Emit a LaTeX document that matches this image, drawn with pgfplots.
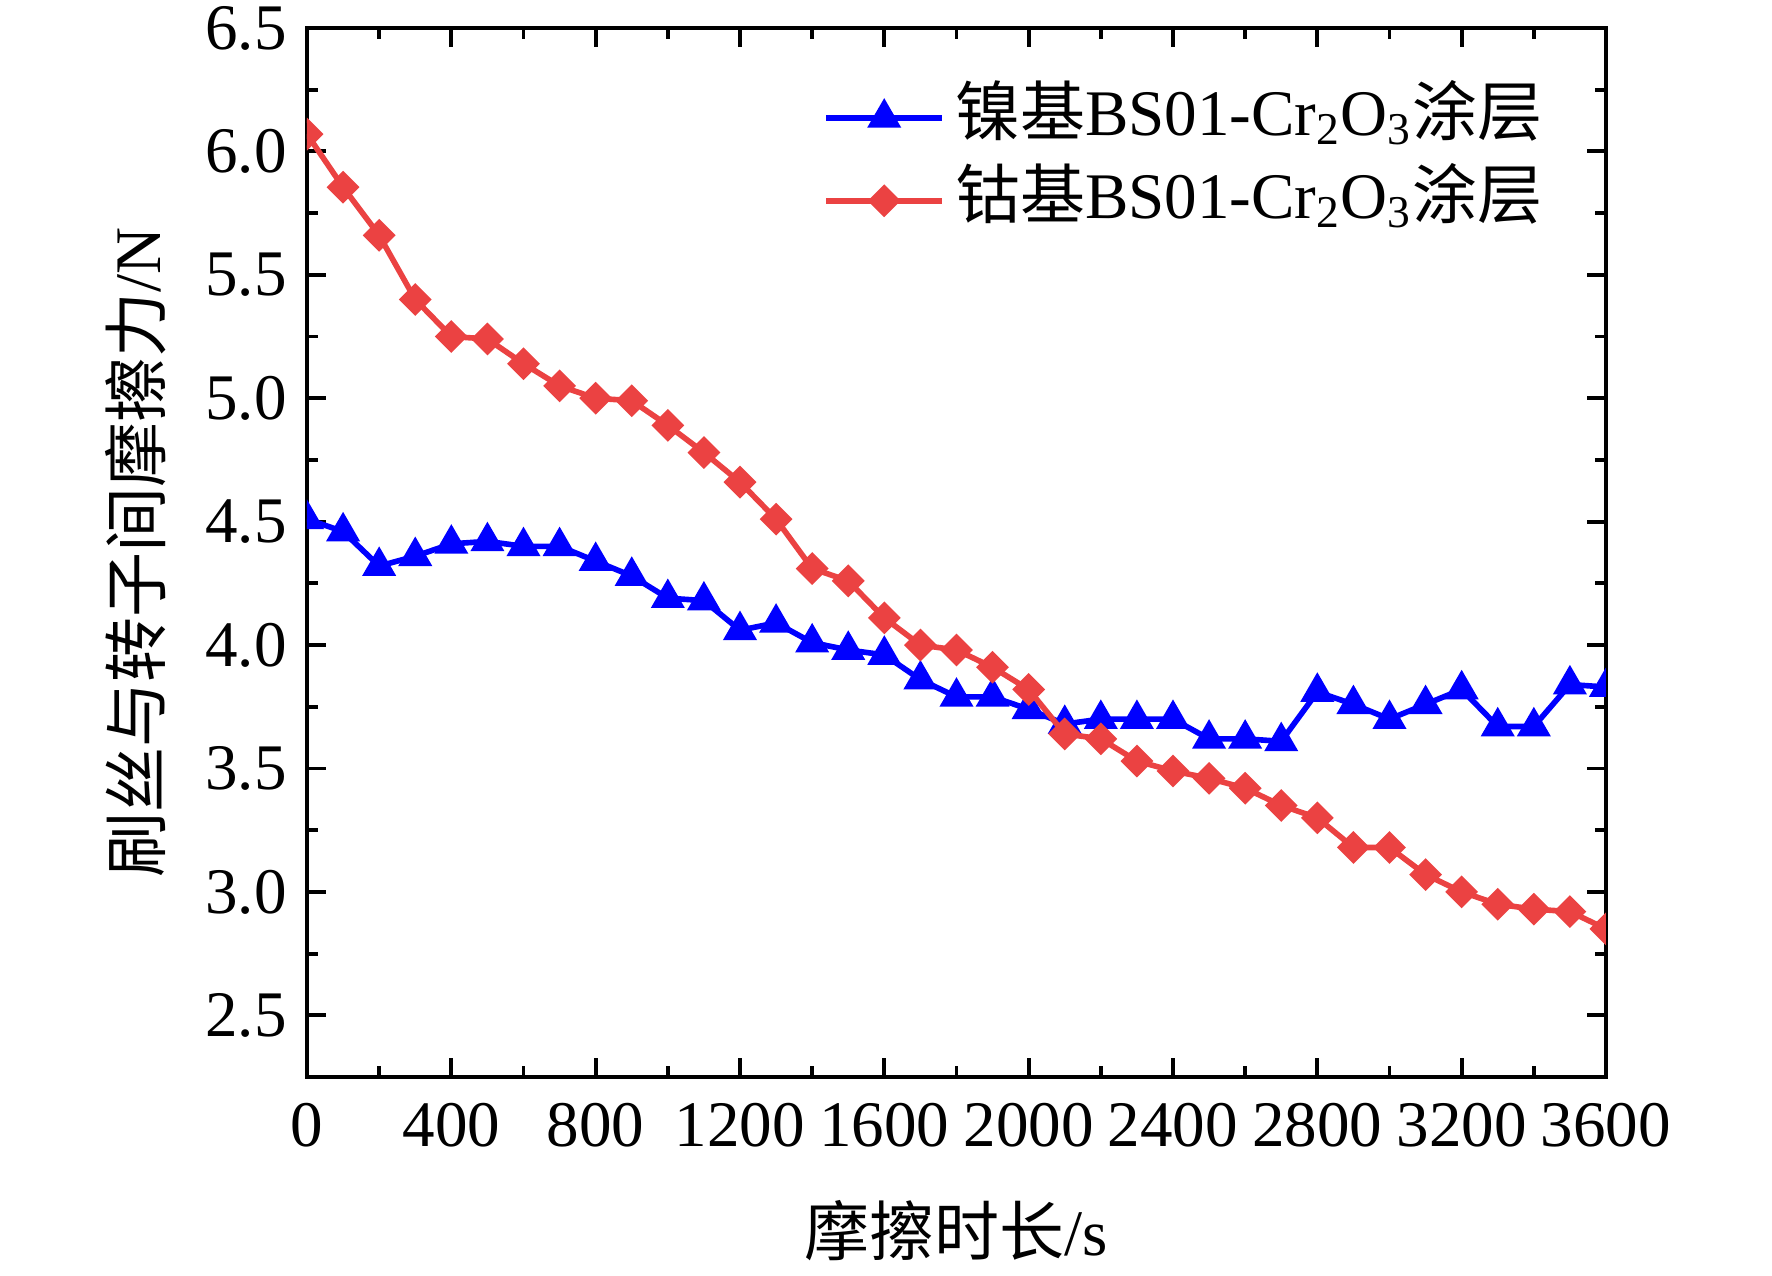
\documentclass[border=0pt]{standalone}
\usepackage{fontspec}
\setmainfont{Liberation Serif}
\newfontfamily\cjk{Noto Sans CJK SC}
\usepackage{pgfplots}
\pgfplotsset{compat=1.18}
\definecolor{myblue}{RGB}{0,0,255}
\definecolor{myred}{RGB}{235,66,66}
\begin{document}
\begin{tikzpicture}
\useasboundingbox (-30.7mm,-19.9mm) rectangle (146.5mm,107.7mm);
\begin{axis}[
  scale only axis,
  width=129.9mm, height=104.9mm,
  xmin=0, xmax=3600, ymin=2.25, ymax=6.5,
  xtick={0,400,...,3600},
  ytick={2.5,3,...,6.5},
  minor x tick num=1,
  minor y tick num=1,
  tick align=inside,
  major tick length=1.9mm,
  minor tick length=1.1mm,
  every tick/.style={black, line width=1.1pt},
  axis line style={line width=1.2pt},
  font=\fontsize{18.5}{22}\selectfont,
  /pgf/number format/assume math mode=true,
  xticklabel style={/pgf/number format/1000 sep={}, yshift=-1.4mm},
  yticklabel style={/pgf/number format/.cd, fixed, fixed zerofill, precision=1, /tikz/xshift=-0.8mm},
  xlabel={{\cjk 摩擦时长}/s},
  ylabel={{\cjk 刷丝与转子间摩擦力}/N},
  xlabel style={at={(axis description cs:0.5,0)}, anchor=center, yshift=-15.4mm},
  ylabel style={at={(axis description cs:-0.1316,0.5)}, anchor=center},
  clip marker paths=true,
  legend cell align=left,
  legend style={at={(rel axis cs:0.397,0.946)}, anchor=north west, draw=none, fill=none,
    inner sep=0pt, row sep=1.8mm, column sep=1.0mm,
    nodes={inner sep=0pt, text height=5mm, text depth=1.5mm}},
  legend image code/.code={\draw[mark repeat=2,mark phase=2] plot coordinates {(0cm,0cm) (0.58cm,0cm) (1.16cm,0cm)};},
]
\addplot[color=myblue, line width=1.6pt, mark=triangle*, mark size=4.6pt, mark options={solid, line width=1pt}] coordinates {
(0,4.51) (100,4.46) (200,4.32) (300,4.36) (400,4.41) (500,4.42) (600,4.40) (700,4.40)
(800,4.34) (900,4.28) (1000,4.19) (1100,4.18) (1200,4.06) (1300,4.09) (1400,4.01)
(1500,3.98) (1600,3.96) (1700,3.86) (1800,3.79) (1900,3.79) (2000,3.74) (2100,3.68)
(2200,3.70) (2300,3.70) (2400,3.70) (2500,3.62) (2600,3.62) (2700,3.61) (2800,3.81)
(2900,3.76) (3000,3.70) (3100,3.76) (3200,3.82) (3300,3.67) (3400,3.67) (3500,3.84) (3600,3.83)
};
\addlegendentry{{\cjk 镍基}BS01-Cr\textsubscript{2}O\textsubscript{3}{\cjk 涂层}}
\addplot[color=myred, line width=1.6pt, mark=square*, mark size=2.8pt, mark options={solid, rotate=45, line width=1pt}] coordinates {
(0,6.07) (100,5.855) (200,5.66) (300,5.40) (400,5.25) (500,5.24) (600,5.14) (700,5.05)
(800,5.00) (900,4.99) (1000,4.89) (1100,4.78) (1200,4.66) (1300,4.51) (1400,4.31)
(1500,4.26) (1600,4.11) (1700,4.00) (1800,3.98) (1900,3.91) (2000,3.82) (2100,3.64)
(2200,3.62) (2300,3.53) (2400,3.49) (2500,3.46) (2600,3.42) (2700,3.35) (2800,3.30)
(2900,3.18) (3000,3.18) (3100,3.07) (3200,3.00) (3300,2.95) (3400,2.93) (3500,2.92) (3600,2.85)
};
\addlegendentry{{\cjk 钴基}BS01-Cr\textsubscript{2}O\textsubscript{3}{\cjk 涂层}}
\end{axis}
\end{tikzpicture}
\end{document}
